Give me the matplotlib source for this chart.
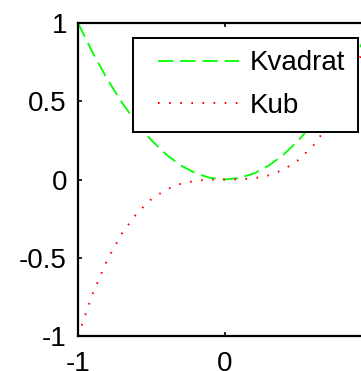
import matplotlib
matplotlib.use('Agg')
import matplotlib.pyplot as plt
from matplotlib.legend_handler import HandlerLine2D

# data: x^2 and x^3 sampled every 0.1
x = [-1.0, -0.9, -0.8, -0.7, -0.6, -0.5, -0.4, -0.3, -0.2, -0.1, 0.0,
     0.1, 0.2, 0.3, 0.4, 0.5, 0.6, 0.7, 0.8, 0.9, 1.0]
kvadrat = [1.0, 0.81, 0.64, 0.49, 0.36, 0.25, 0.16, 0.09, 0.04, 0.01, 0.0,
           0.01, 0.04, 0.09, 0.16, 0.25, 0.36, 0.49, 0.64, 0.81, 1.0]
kub = [-1.0, -0.729, -0.512, -0.343, -0.216, -0.125, -0.064, -0.027, -0.008, -0.001, 0.0,
       0.001, 0.008, 0.027, 0.064, 0.125, 0.216, 0.343, 0.512, 0.729, 1.0]
labels = ['Kvadrat', 'Kub']
xticks = [-1, 0]
yticks = [-1, -0.5, 0, 0.5, 1]

plt.rcParams['font.family'] = ['Liberation Sans', 'DejaVu Sans']
plt.rcParams['lines.scale_dashes'] = False

W, H = 361, 371
fig = plt.figure(figsize=(W / 100, H / 100), dpi=100)
# axes runs past the right edge of the picture, like the cropped original
ax = fig.add_axes([78 / W, (H - 336) / H, 294 / W, 313 / H])

ax.plot(x, kvadrat, color='#00ff00', lw=1.3, linestyle=(0, (11, 5)), label=labels[0])
ax.plot(x, kub, color='#ff0000', lw=1.4, linestyle=(0, (1.2, 6.8)), label=labels[1])

ax.set_xlim(-1, 1)
ax.set_ylim(-1, 1)
ax.set_xticks(xticks)
ax.set_yticks(yticks)
ax.set_xticklabels(['-1', '0'])
ax.set_yticklabels(['-1', '-0.5', '0', '0.5', '1'])
ax.tick_params(direction='in', length=3, width=1.2, labelsize=20, top=True, right=True)
ax.tick_params(axis='x', pad=11)
ax.tick_params(axis='y', pad=8)
for s in ax.spines.values():
    s.set_linewidth(1.6)

leg = ax.legend(loc='upper left', bbox_to_anchor=(133 / W, 1 - 38 / H),
                bbox_transform=fig.transFigure, fontsize=20, frameon=True,
                fancybox=False, edgecolor='black', framealpha=1, borderaxespad=0,
                handlelength=3.36, handletextpad=0.4, labelspacing=0.6,
                borderpad=0.45, handler_map={plt.Line2D: HandlerLine2D(xpad=0.45)})
leg.get_frame().set_linewidth(1.4)

fig.savefig('out.png', dpi=100)
